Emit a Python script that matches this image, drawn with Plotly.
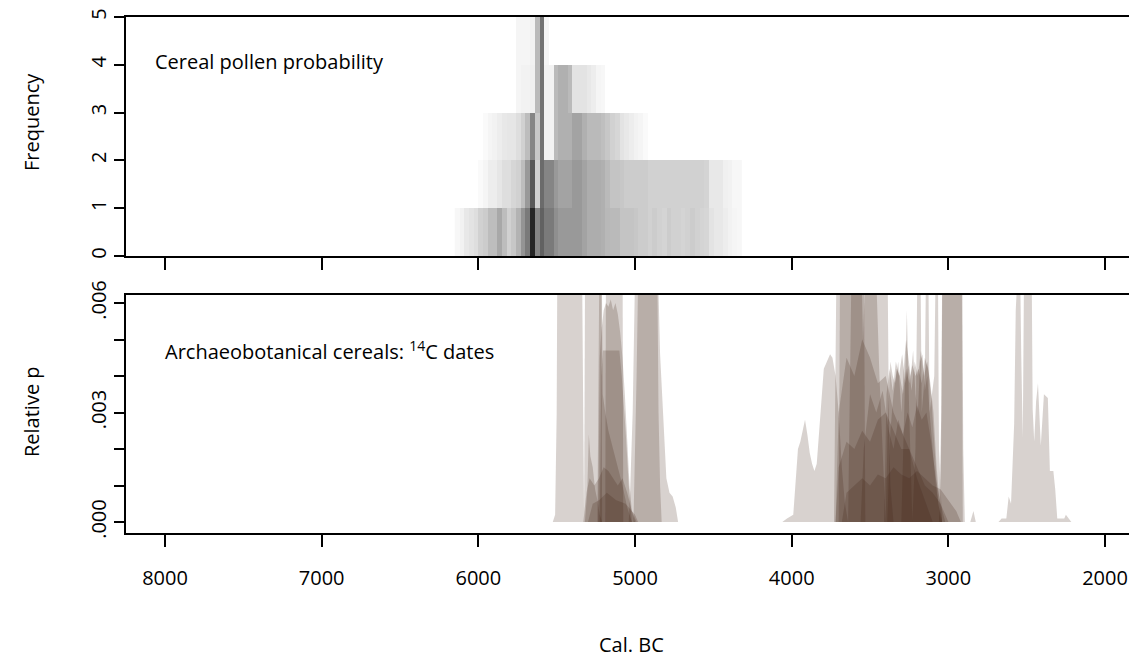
import plotly.graph_objects as go

# ---------------- top panel: cereal pollen probability (heat-histogram) ----------------
bin_edges_bc = list(range(6150, 4319, -30))          # 62 edges -> 61 bins (30-yr)
freq_levels = [0, 1, 2, 3, 4, 5]

# darkness (0 = white, 1 = black) per 30-yr bin, one row per frequency level
lvl0 = [0.03,0.05,0.09,0.11,0.13,0.18,0.20,0.26,0.26,0.34,
        0.26,0.18,0.22,0.30,0.42,0.52,0.85,0.48,0.62,0.52,
        0.52,0.44,0.40,0.40,0.40,0.40,0.40,0.36,0.32,0.32,
        0.32,0.31,0.28,0.27,0.27,0.23,0.23,0.23,0.22,0.20,
        0.20,0.18,0.20,0.18,0.17,0.20,0.18,0.18,0.17,0.18,
        0.20,0.18,0.17,0.16,0.11,0.09,0.09,0.07,0.05,0.04,
        0.03]
lvl1 = [0,0,0,0,0,0.02,0.04,0.07,0.07,0.10,
        0.13,0.13,0.16,0.18,0.26,0.40,0.65,0.18,0.58,0.48,
        0.48,0.40,0.36,0.36,0.36,0.40,0.40,0.36,0.32,0.32,
        0.32,0.31,0.27,0.23,0.23,0.22,0.20,0.20,0.20,0.20,
        0.20,0.18,0.18,0.18,0.18,0.18,0.18,0.18,0.18,0.18,
        0.18,0.18,0.18,0.17,0.09,0.09,0.09,0.06,0.05,0.03,
        0.03]
lvl2 = [0,0,0,0,0,0,0.02,0.04,0.05,0.07,
        0.09,0.10,0.10,0.13,0.18,0.26,0.48,0.22,0.55,0.05,
        0.05,0.27,0.31,0.31,0.31,0.36,0.36,0.31,0.27,0.27,
        0.27,0.25,0.22,0.18,0.16,0.11,0.09,0.07,0.05,0.04,
        0.02,0,0,0,0,0,0,0,0,0,
        0,0,0,0,0,0,0,0,0,0,
        0]
lvl3 = [0,0,0,0,0,0,0,0,0,0,
        0,0,0,0.04,0.05,0.05,0.06,0.27,0.55,0.05,
        0.05,0.27,0.31,0.31,0.27,0.11,0.11,0.11,0.09,0.07,
        0.04,0.03,0,0,0,0,0,0,0,0,
        0,0,0,0,0,0,0,0,0,0,
        0,0,0,0,0,0,0,0,0,0,
        0]
lvl4 = [0,0,0,0,0,0,0,0,0,0,
        0,0,0,0.04,0.04,0.04,0.05,0.27,0.55,0.04,
        0,0,0,0,0,0,0,0,0,0,
        0,0,0,0,0,0,0,0,0,0,
        0,0,0,0,0,0,0,0,0,0,
        0,0,0,0,0,0,0,0,0,0,
        0]

# ---------------- bottom panel: summed 14C date densities (year BC, relative p) ----------------
# values above the axis top are clipped in the original
d01 = [(5525,0),(5510,0.0002),(5500,0.003),(5495,0.008),(5340,0.008),(5332,0.002),(5325,0)]
d02 = [(5325,0),(5318,0.008),(5215,0.008),(5210,0)]
d03 = [(5190,0),(5185,0.008),(5080,0.008),(5075,0)]
d04 = [(5235,0),(5225,0.0045),(5215,0.0052),(5200,0.0058),(5185,0.0060),(5170,0.0059),
       (5155,0.0061),(5140,0.0058),(5125,0.0060),(5110,0.0057),(5095,0.0052),(5080,0.0045),
       (5065,0.0035),(5050,0.0022),(5035,0.0010),(5020,0.0003),(5000,0)]
d05 = [(5225,0),(5215,0.0040),(5205,0.0047),(5100,0.0047),(5085,0.0040),(5060,0.0025),
       (5040,0.0010),(5020,0)]
d06 = [(5240,0),(5232,0.004),(5226,0.008),(5214,0.008),(5206,0.0035),(5190,0.0030),
       (5170,0.0025),(5140,0.0020),(5110,0.0015),(5080,0.0010),(5050,0.0004),(5020,0)]
d07 = [(5320,0),(5305,0.0008),(5295,0.0024),(5285,0.0018),(5270,0.0015),(5255,0.0009),
       (5240,0.0006),(5225,0.0002),(5210,0)]
d08 = [(5330,0),(5310,0.0008),(5290,0.0012),(5260,0.0010),(5230,0.0012),(5200,0.0015),
       (5170,0.0014),(5140,0.0012),(5110,0.0010),(5080,0.0012),(5050,0.0008),(5020,0.0003),(4990,0)]
d09 = [(5300,0),(5270,0.0005),(5230,0.0006),(5180,0.0008),(5120,0.0006),(5060,0.0005),
       (5000,0.0002),(4980,0)]
d10 = [(5040,0),(5030,0.001),(5015,0.003),(5000,0.006),(4995,0.008),(4860,0.008),
       (4850,0.003),(4840,0.001),(4830,0)]
d11 = [(5010,0),(4990,0.004),(4975,0.008),(4860,0.008),(4840,0.0046),(4820,0.0030),
       (4800,0.0012),(4780,0.0008),(4760,0.0007),(4740,0.0004),(4725,0)]
d12 = [(4060,0),(4030,0.0001),(3990,0.0002),(3975,0.0010),(3960,0.0020),(3945,0.0022),
       (3930,0.0025),(3915,0.0028),(3900,0.0024),(3885,0.0019),(3870,0.0016),(3855,0.0014),
       (3840,0.0016),(3825,0.0025),(3810,0.0035),(3795,0.0042),(3775,0.0044),(3755,0.0046),
       (3740,0.0045),(3720,0.0040),(3700,0.0030),(3680,0.0015),(3660,0.0005),(3640,0)]
d13 = [(3730,0),(3720,0.004),(3712,0.008),(3390,0.008),(3380,0.003),(3370,0.001),(3350,0)]
d14 = [(3700,0),(3690,0.008),(3540,0.008),(3530,0)]
d15 = [(3640,0),(3625,0.005),(3615,0.008),(3560,0.008),(3545,0.005),(3520,0.008),
       (3470,0.008),(3440,0.004),(3420,0.002),(3400,0)]
d16 = [(3720,0),(3700,0.0015),(3650,0.0022),(3600,0.0020),(3550,0.0025),(3500,0.0022),
       (3450,0.0028),(3400,0.0030),(3350,0.0025),(3300,0.0020),(3250,0.0020),(3200,0.0015),
       (3150,0.0010),(3100,0.0008),(3050,0.0005),(3000,0)]
d17 = [(3680,0),(3650,0.0008),(3600,0.0010),(3550,0.0012),(3500,0.0010),(3450,0.0013),
       (3400,0.0012),(3350,0.0015),(3300,0.0013),(3250,0.0012),(3200,0.0014),(3150,0.0012),
       (3100,0.0010),(3050,0.0009),(3000,0.0006),(2950,0.0003),(2920,0)]
d18 = [(3400,0),(3385,0.0030),(3370,0.0044),(3355,0.0040),(3340,0.0038),(3320,0.0044),
       (3300,0.0030),(3285,0.0042),(3270,0.0050),(3255,0.0045),(3240,0.0040),(3225,0.0047),
       (3210,0.0035),(3195,0.0030),(3180,0.0044),(3165,0.0046),(3150,0.0036),(3135,0.0040),
       (3120,0.0030),(3100,0.0020),(3080,0.0010),(3060,0.0004),(3040,0)]
d19 = [(3390,0),(3370,0.0025),(3350,0.0035),(3330,0.0042),(3310,0.0040),(3290,0.0035),
       (3270,0.0042),(3250,0.0038),(3230,0.0043),(3210,0.0040),(3190,0.0042),(3170,0.0038),
       (3150,0.0045),(3130,0.0042),(3110,0.0035),(3090,0.0020),(3070,0.0008),(3050,0)]
d20 = [(3230,0),(3210,0.002),(3195,0.008),(3180,0.008),(3170,0.003),(3150,0.004),
       (3140,0.008),(3130,0.008),(3120,0.003),(3090,0.004),(3078,0.008),(3068,0.008),
       (3060,0.002),(3040,0)]
d21 = [(3300,0),(3280,0.003),(3265,0.0058),(3250,0.003),(3230,0)]
d22 = [(3060,0),(3045,0.003),(3038,0.008),(2912,0.008),(2905,0.002),(2895,0)]
d23 = [(3050,0),(3036,0.008),(2915,0.008),(2908,0)]
d24 = [(2860,0),(2840,0.0003),(2825,0)]
d25 = [(2680,0),(2660,0.0001),(2630,0.0001),(2615,0.0007),(2600,0.0005),(2590,0.0015),
       (2580,0.0027),(2570,0.0058),(2560,0.008),(2545,0.008),(2535,0.0046),(2525,0.0023),
       (2515,0.008),(2470,0.008),(2462,0.0031),(2452,0.0022),(2440,0.0033),(2428,0.0038),
       (2410,0.0021),(2390,0.0035),(2365,0.0034),(2352,0.0014),(2330,0.0014),(2318,0.0009),
       (2305,0.0001),(2260,0.0001),(2250,0.0002),(2230,0.0001),(2215,0)]
d26 = [(3720,0),(3700,0.0030),(3650,0.0045),(3600,0.0040),(3550,0.0050),(3500,0.0045),
       (3450,0.0038),(3400,0.0040),(3350,0.0030),(3300,0.0025),(3250,0.0020),(3200,0.0012),
       (3150,0.0006),(3100,0)]
d27 = [(3560,0),(3540,0.0020),(3500,0.0035),(3460,0.0030),(3420,0.0036),(3380,0.0025),
       (3350,0.0020),(3320,0.0028),(3290,0.0024),(3260,0.0030),(3230,0.0026),(3200,0.0032),
       (3170,0.0028),(3140,0.0030),(3110,0.0022),(3080,0.0012),(3050,0.0005),(3020,0)]
d28 = [(3410,0),(3395,0.0035),(3375,0.0042),(3355,0.0036),(3335,0.0044),(3315,0.0040),
       (3295,0.0046),(3275,0.0038),(3255,0.0043),(3235,0.0036),(3215,0.0044),(3195,0.0040),
       (3175,0.0047),(3155,0.0040),(3135,0.0044),(3115,0.0038),(3095,0.0030),(3075,0.0015),
       (3055,0.0005),(3040,0)]
date_curves = [d01,d02,d03,d04,d05,d06,d07,d08,d09,d10,d11,d12,d13,d14,d15,
               d16,d17,d26,d27,d28,d18,d19,d20,d21,d22,d23,d24,d25]

x_ticks = [8000, 7000, 6000, 5000, 4000, 3000, 2000]
p_ticks = [0, 0.003, 0.006]
p_ticktext = [".000", ".003", ".006"]
p_minor = [0.001, 0.002, 0.004, 0.005]
freq_ticks = [0, 1, 2, 3, 4, 5]

FONT = "Open Sans"
# the page body has an 8px margin; lay the figure out so that the
# photographed window (1137x658) shows the target geometry
OFF = 8
WIN_W, WIN_H = 1137, 658
W, H = WIN_W - OFF, WIN_H - OFF
ML, MR, MT, MB = 126 - OFF, 0, 17 - OFF, WIN_H - 533
fig = go.Figure()

fig.add_trace(go.Heatmap(
    x=bin_edges_bc, y=freq_levels, z=[lvl0, lvl1, lvl2, lvl3, lvl4],
    zmin=0, zmax=1, colorscale=[[0, "#ffffff"], [1, "#000000"]],
    showscale=False, xaxis="x2", yaxis="y2", hoverinfo="skip"))

for c in date_curves:
    fig.add_trace(go.Scatter(
        x=[p[0] for p in c], y=[p[1] for p in c], mode="lines",
        fill="tozeroy", fillcolor="rgba(60,28,15,0.2)",
        line=dict(width=0, color="rgba(0,0,0,0)"),
        xaxis="x", yaxis="y", hoverinfo="skip", showlegend=False))

plot_h = H - MT - MB
y_dom = [0, (533 - 295) / plot_h]
y2_dom = [(533 - 256) / plot_h, 1]

axis_common = dict(showline=True, linecolor="black", linewidth=2, showgrid=False,
                   zeroline=False, ticks="outside", tickcolor="black", tickwidth=1.5,
                   automargin=False)

fig.update_layout(
    width=W, height=H, margin=dict(l=ML, r=MR, t=MT, b=MB, autoexpand=False),
    paper_bgcolor="white", plot_bgcolor="white", showlegend=False,
    font=dict(family=FONT, size=20, color="black"),
    xaxis=dict(**axis_common, range=[8249, 1796], domain=[0, 1], anchor="y",
               mirror=True, tickvals=x_ticks, ticklen=12,
               ticktext=[str(v) for v in x_ticks], ticklabelstandoff=14),
    xaxis2=dict(**axis_common, range=[8249, 1796], domain=[0, 1], anchor="y2",
                mirror=True, tickvals=x_ticks, ticklen=12, showticklabels=False,
                matches="x"),
    yaxis=dict(**axis_common, range=[-0.0003, 0.00622], domain=y_dom, anchor="x",
               tickvals=p_ticks, ticktext=p_ticktext, tickangle=-90, ticklen=10,
               minor=dict(tickvals=p_minor, ticks="outside", ticklen=10,
                          tickwidth=1.5, tickcolor="black", showgrid=False)),
    yaxis2=dict(**axis_common, range=[0, 5], domain=y2_dom, anchor="x2",
                tickvals=freq_ticks, tickangle=-90, ticklen=10),
)

# helpers: window pixel -> paper coordinates
def px_x(px):
    return (px - OFF - ML) / (W - ML - MR)

def px_y(py):
    return (H - MB - (py - OFF)) / plot_h

fig.add_annotation(text="Cereal pollen probability", x=px_x(153), y=px_y(61),
                   xref="paper", yref="paper", xanchor="left", yanchor="middle",
                   showarrow=False, font=dict(size=20))
fig.add_annotation(text="Archaeobotanical cereals: <sup>14</sup>C dates", x=px_x(163), y=px_y(350),
                   xref="paper", yref="paper", xanchor="left", yanchor="middle",
                   showarrow=False, font=dict(size=20))
fig.add_annotation(text="Frequency", x=px_x(31), y=px_y(122), xref="paper", yref="paper",
                   textangle=-90, showarrow=False, xanchor="center", yanchor="middle")
fig.add_annotation(text="Relative p", x=px_x(31), y=px_y(412), xref="paper", yref="paper",
                   textangle=-90, showarrow=False, xanchor="center", yanchor="middle")
fig.add_annotation(text="Cal. BC", x=px_x(631), y=px_y(644), xref="paper", yref="paper",
                   showarrow=False, xanchor="center", yanchor="middle")

fig.write_html("out.html")
